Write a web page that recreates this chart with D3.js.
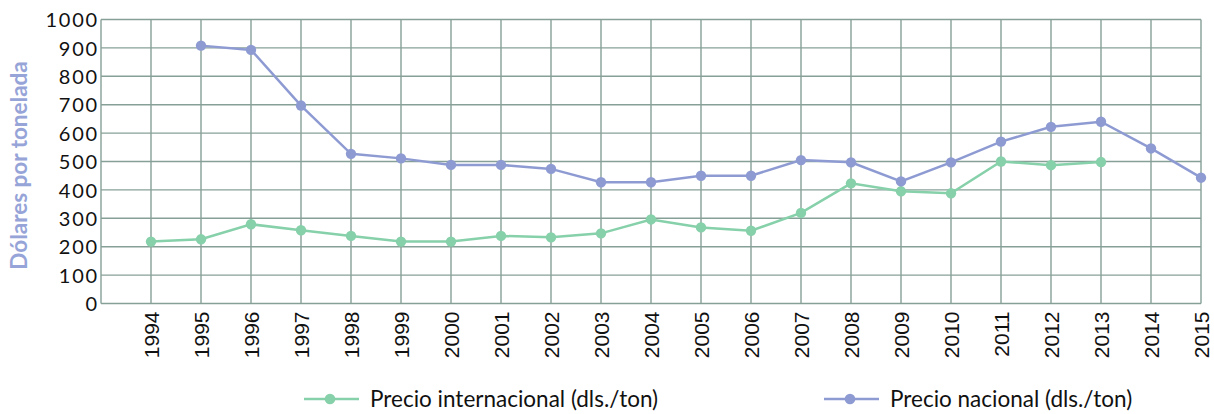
<!DOCTYPE html>
<html><head><meta charset="utf-8">
<script src="https://cdn.jsdelivr.net/npm/d3@7"></script>
<style>html,body{margin:0;padding:0;background:#fff;}svg{display:block;}</style>
</head><body>
<svg id="c" width="1214" height="414"></svg>
<script>
const years = [1994,1995,1996,1997,1998,1999,2000,2001,2002,2003,2004,2005,2006,2007,2008,2009,2010,2011,2012,2013,2014,2015];
const internacional = [218,226,279,258,238,218,218,238,233,247,296,268,256,319,423,395,388,500,487,498,null,null];
const nacional = [null,908,893,697,527,511,488,488,474,427,427,450,450,505,497,430,497,570,622,640,546,443];
const yTicks = [0,100,200,300,400,500,600,700,800,900,1000];
const yTitle = "Dólares por tonelada";
const seriesNames = ["Precio internacional (dls./ton)","Precio nacional (dls./ton)"];
const colors = ["#86d0aa","#8e9bd3"];

const svg = d3.select("#c");
const x = d3.scaleLinear().domain([1993,2015]).range([101,1201]);
const y = d3.scaleLinear().domain([0,1000]).range([303.5,19.5]);
const grid = "#87a097";

// horizontal grid
svg.append("g").selectAll("line").data(yTicks).join("line")
  .attr("x1",x(1993)).attr("x2",x(2015)).attr("y1",d=>y(d)).attr("y2",d=>y(d))
  .attr("stroke",grid).attr("stroke-width",1.4);
// vertical grid
svg.append("g").selectAll("line").data([1993].concat(years)).join("line")
  .attr("x1",d=>x(d)).attr("x2",d=>x(d)).attr("y1",y(0)).attr("y2",y(1000))
  .attr("stroke",grid).attr("stroke-width",1.4);

// y axis labels
const yAxis = d3.axisLeft(y).tickValues(yTicks).tickFormat(d3.format("d")).tickSize(0).tickPadding(2);
const ga = svg.append("g").attr("transform",`translate(${x(1993)},0)`).call(yAxis);
ga.select(".domain").remove();
ga.selectAll("text").attr("font-family","Lato").attr("font-size",20).attr("letter-spacing","1.8px")
  .attr("fill","#111").attr("dy","0.36em");

// x axis labels
const xAxis = d3.axisBottom(x).tickValues(years).tickFormat(d3.format("d")).tickSize(0);
const gx = svg.append("g").attr("transform",`translate(0,${y(0)})`).call(xAxis);
gx.select(".domain").remove();
gx.selectAll("text").attr("font-family","Liberation Sans, Arial").attr("font-size",21).attr("fill","#111")
  .attr("text-anchor","end").attr("transform","rotate(-90)").attr("x",-8).attr("y",0).attr("dy","0.36em");

// y title
svg.append("text").attr("transform",`translate(26.5,${(y(0)+y(1000))/2+4}) rotate(-90)`)
  .attr("text-anchor","middle").attr("font-family","Lato").attr("font-weight","bold").attr("font-size",22.5)
  .attr("fill","#96a4d8").text(yTitle);

// series
const data = [internacional, nacional];
const line = d3.line().defined(d=>d[1]!=null).x(d=>x(d[0])).y(d=>y(d[1]));
data.forEach((vals,i)=>{
  const pts = years.map((yr,j)=>[yr,vals[j]]);
  svg.append("path").datum(pts).attr("d",line).attr("fill","none").attr("stroke",colors[i]).attr("stroke-width",2.5);
  svg.append("g").selectAll("circle").data(pts.filter(p=>p[1]!=null)).join("circle")
    .attr("cx",d=>x(d[0])).attr("cy",d=>y(d[1])).attr("r",5.2).attr("fill",colors[i]);
});

// legend
const legX = [304, 824];
const leg = svg.append("g");
seriesNames.forEach((n,i)=>{
  const g = leg.append("g").attr("transform",`translate(${legX[i]},399)`);
  g.append("line").attr("x1",0).attr("x2",55).attr("stroke",colors[i]).attr("stroke-width",2.5);
  g.append("circle").attr("cx",26).attr("r",5.3).attr("fill",colors[i]);
  g.append("text").attr("x",66).attr("dy","0.36em").attr("font-family","Lato").attr("font-size",22.5).attr("fill","#111").text(n);
});
</script>
</body></html>
